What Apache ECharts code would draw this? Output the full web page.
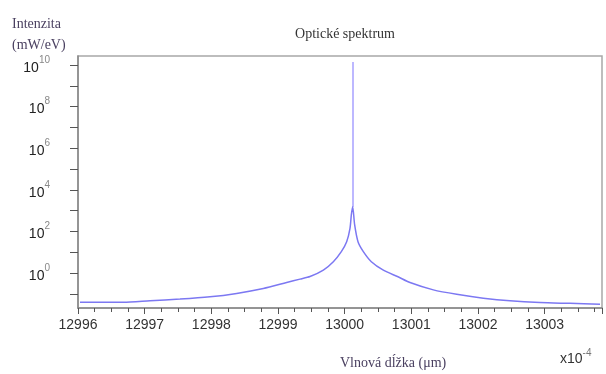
<!DOCTYPE html>
<html>
<head>
<meta charset="utf-8">
<script src="https://cdn.jsdelivr.net/npm/echarts@6/dist/echarts.min.js"></script>
<style>
  html, body { margin: 0; padding: 0; background: #fff; }
  #chart { width: 606px; height: 374px; }
</style>
</head>
<body>
<div id="chart"></div>
<script>
// wavelength in units of 1e-4 um, intensity in mW/eV
const wavelength = [
  12996.03, 12996.68, 12997.08, 12997.53, 12997.98, 12998.38, 12998.78,
  12999.13, 12999.33, 12999.48, 12999.68, 12999.83, 12999.95, 13000.03,
  13000.08, 13000.10, 13000.12,
  13000.15, 13000.20, 13000.28, 13000.40, 13000.58, 13000.80, 13000.98,
  13001.33, 13001.68, 13002.08, 13002.48, 13002.93, 13003.38, 13003.83
];
const intensity = [
  0.040, 0.040, 0.047, 0.056, 0.072, 0.105, 0.18,
  0.35, 0.51, 0.68, 1.38, 3.5, 10.7, 32,
  141, 620, 1550,
  204, 32, 10.7, 3.5, 1.38, 0.66, 0.35,
  0.155, 0.095, 0.062, 0.046, 0.038, 0.035, 0.032
];
// the narrow laser line on top of the broad spectrum
const spikeX = [13000.125, 13000.125];
const spikeY = [1500, 1.4e10];

const xTicks = [12996, 12997, 12998, 12999, 13000, 13001, 13002, 13003];
const yTickExp = [-1, 0, 1, 2, 3, 4, 5, 6, 7, 8, 9, 10];
const yLabelExp = [0, 2, 4, 6, 8, 10];

const chart = echarts.init(document.getElementById('chart'));

const lineData = wavelength.map((x, i) => [x, Math.log10(intensity[i])]);
const spikeData = spikeX.map((x, i) => [x, Math.log10(spikeY[i])]);

const option = {
  animation: false,
  title: {
    text: 'Optické spektrum',
    left: 340,
    textAlign: 'center',
    top: 22,
    textStyle: { fontFamily: 'Liberation Serif', fontWeight: 'normal', fontSize: 14, color: '#333' }
  },
  graphic: [
    {
      type: 'text', left: 12, top: 14,
      style: {
        text: 'Intenzita\n(mW/eV)',
        font: '14px "Liberation Serif"',
        fill: '#4a4060',
        lineHeight: 21
      }
    },
    {
      type: 'text', left: 560, top: 348,
      style: {
        text: '{a|x10}{b|-4}',
        rich: {
          a: { font: '14px "Liberation Sans"', fill: '#333', lineHeight: 18, verticalAlign: 'bottom' },
          b: { font: '10px "Liberation Sans"', fill: '#777', lineHeight: 18, verticalAlign: 'top' }
        }
      }
    },
    {
      type: 'text', left: 340, top: 356,
      style: {
        text: 'Vlnová dĺžka (μm)',
        font: '14px "Liberation Serif"',
        fill: '#4a4060',
        align: 'center'
      }
    }
  ],
  grid: {
    left: 78, right: 4, top: 56, bottom: 66,
    show: true, borderColor: '#a8a8a8', borderWidth: 1.5, backgroundColor: '#fff'
  },
  xAxis: {
    type: 'value',
    min: 12996,
    max: 13003.86,
    interval: 1,
    splitLine: { show: false },
    axisLine: { onZero: false, lineStyle: { color: '#888', width: 1.5 } },
    axisTick: { length: 6, lineStyle: { color: '#555' } },
    minorTick: { show: true, splitNumber: 4, length: 4, lineStyle: { color: '#555' } },
    axisLabel: {
      showMaxLabel: false,
      margin: 10,
      fontFamily: 'Liberation Sans', fontSize: 14, color: '#333',
      formatter: v => xTicks.includes(v) ? String(v) : ''
    }
  },
  yAxis: {
    type: 'value',
    min: -1.68,
    max: 10.43,
    splitLine: { show: false },
    axisLine: { show: true, onZero: false, lineStyle: { color: '#888', width: 1.5 } },
    axisTick: { show: true, length: 8, customValues: yTickExp, lineStyle: { color: '#555' } },
    axisLabel: {
      customValues: yLabelExp,
      margin: 28,
      formatter: v => '{b|10}{s|' + v + '}',
      rich: {
        b: { fontFamily: 'Liberation Sans', fontSize: 14, color: '#222', lineHeight: 20, verticalAlign: 'bottom' },
        s: { fontFamily: 'Liberation Sans', fontSize: 10, color: '#888', lineHeight: 20, verticalAlign: 'top' }
      }
    }
  },
  series: [
    {
      type: 'line',
      data: lineData,
      showSymbol: false,
      smooth: 0.25,
      lineStyle: { color: '#7c78f2', width: 1.5 }
    },
    {
      type: 'line',
      data: spikeData,
      showSymbol: false,
      lineStyle: { color: '#bdb8ff', width: 2 },
      z: 1
    }
  ]
};

chart.setOption(option);
</script>
</body>
</html>
